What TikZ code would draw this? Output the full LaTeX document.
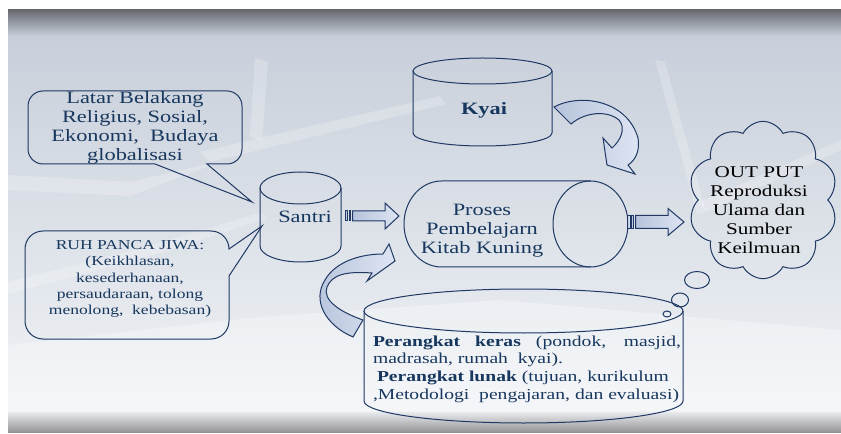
\documentclass[tikz,border=0pt]{standalone}
\usepackage{fontspec}
\setmainfont{Liberation Serif}[FakeStretch=1.29]
\usetikzlibrary{shapes.symbols}

\definecolor{navy}{RGB}{23,55,94}
\definecolor{edge}{RGB}{31,56,100}
\definecolor{arrowA}{RGB}{182,195,219}
\definecolor{arrowB}{RGB}{222,229,243}
\definecolor{panelA}{RGB}{200,207,218}
\definecolor{panelM}{RGB}{222,227,234}
\definecolor{panelB}{RGB}{240,243,246}
\definecolor{bandtop}{RGB}{104,106,112}
\definecolor{bandbot}{RGB}{148,148,150}

\tikzset{every picture/.style={line width=0.75pt}}
\tikzset{
  txt/.style={text=navy, inner sep=0.75pt, align=center},
  outline/.style={draw=edge},
  blockarrow/.style={draw=edge, left color=arrowA, right color=arrowB},
  streak/.style={fill=white, opacity=0.22}
}

\begin{document}
\begin{tikzpicture}[x=0.75pt,y=0.75pt,yscale=-1]
\useasboundingbox (0,0) rectangle (841,434);

%Background panel
\fill[white] (0,0) rectangle (841,434);
\shade[top color=panelA, middle color=panelM, bottom color=panelB] (8,34) rectangle (841,412);
\shade[top color=bandtop, bottom color=panelA] (8,10) rectangle (841,36);
\shade[top color=panelB, bottom color=bandbot] (8,410) rectangle (841,432);

%Ice streaks
\fill[streak] (8,282) -- (150,246) -- (262,212) -- (266,219) -- (150,256) -- (8,294) -- cycle;
\fill[streak] (255,58) -- (268,62) -- (262,142) -- (250,136) -- cycle;
\fill[streak] (200,152) -- (440,96) -- (446,104) -- (210,162) -- cycle;
\fill[streak] (655,60) -- (665,62) -- (706,212) -- (697,214) -- cycle;
\fill[streak] (700,202) -- (841,140) -- (841,150) -- (706,212) -- cycle;
\fill[streak] (8,175) -- (130,182) -- (225,160) -- (130,196) -- (8,190) -- cycle;
\fill[white, opacity=0.3] (8,345) -- (250,318) -- (500,300) -- (841,330) -- (841,412) -- (8,412) -- cycle;

%Callout: Latar Belakang
\draw[outline] (43,91) -- (227,91) arc (270:360:15) -- (242,149) arc (0:90:15) -- (207,164) -- (252,202) -- (155,164) -- (43,164) arc (90:180:15) -- (28,106) arc (180:270:15) -- cycle;
%Callout: Ruh Panca Jiwa
\draw[outline] (43,231) -- (211,231) arc (270:360:18) -- (229,249) -- (262,226) -- (229,276) -- (229,321) arc (0:90:18) -- (43,339) arc (90:180:18) -- (25,321) -- (25,249) arc (180:270:18) -- cycle;

%Cylinder: Santri
\draw[outline] (260,188) -- (260,246) arc (180:0:40.5 and 16) -- (341,188);
\draw[outline] (300.5,188) ellipse [x radius=40.5, y radius=16];
%Cylinder: Kyai
\draw[outline] (413,71) -- (413,133) arc (180:0:69.5 and 13) -- (552,71);
\draw[outline] (482.5,71) ellipse [x radius=69.5, y radius=13];
%Cylinder: Proses (lying)
\draw[outline] (590.5,181) -- (441.5,181) arc (270:90:37.5 and 43) -- (590.5,267);
\draw[outline] (590.5,224) ellipse [x radius=37.5, y radius=43];

%Curved Arrow: Kyai to Proses
\draw[blockarrow] (554,107) .. controls (580,93) and (627,100) .. (638,138) .. controls (640,150) and (636,160) .. (628,165) -- (635,174) -- (607,165) -- (603,138) -- (612,148) .. controls (621,140) and (626,128) .. (619,120) .. controls (607,110) and (585,112) .. (571,124) -- cycle;
%Curved Arrow: Perangkat to Proses
\draw[blockarrow] (363,320) .. controls (340,312) and (322,300) .. (327,287) .. controls (332,275) and (345,271) .. (372,273) -- (367,281) -- (395,261) -- (389,244) -- (383,254) .. controls (360,254) and (335,262) .. (325,280) .. controls (312,300) and (325,325) .. (353,337) -- cycle;

%Cylinder: Perangkat
\draw[outline] (364,311) -- (364,401) arc (180:0:159.5 and 22) -- (683,311);
\draw[outline] (523.5,311) ellipse [x radius=159.5, y radius=22];

%Striped Arrow: Santri to Proses
\draw[blockarrow] (345,211) rectangle (347.5,221);
\draw[blockarrow] (349,211) rectangle (350.5,221);
\draw[blockarrow] (352.5,211) -- (385,211) -- (385,203) -- (399,216) -- (385,229) -- (385,221) -- (352.5,221) -- cycle;
%Striped Arrow: Proses to Output
\draw[blockarrow] (627,215.5) rectangle (630,228.5);
\draw[blockarrow] (631.5,215.5) rectangle (633.5,228.5);
\draw[blockarrow] (635.5,215.5) -- (668,215.5) -- (668,208.5) -- (684,222) -- (668,235.5) -- (668,228.5) -- (635.5,228.5) -- cycle;

%Cloud and thought bubbles
\node[cloud, draw=edge, cloud puffs=10, cloud puff arc=125, aspect=0.95, minimum width=112pt, minimum height=118pt, inner sep=0pt] (output) at (763,200) {};
\draw[outline] (697,280) ellipse [x radius=12.5, y radius=8.5];
\draw[outline] (680,300) ellipse [x radius=8.5, y radius=7];
\draw[outline] (667,314) ellipse [x radius=4, y radius=3];

% Text Node
\node[txt, font=\fontsize{13}{14.25}\selectfont] (latar) at (135,128) {Latar Belakang\\Religius, Sosial,\\Ekonomi,~ Budaya\\globalisasi};
% Text Node
\node[txt, font=\fontsize{10.2}{12.2}\selectfont] (ruh) at (130,279) {RUH PANCA JIWA:\\(Keikhlasan,\\kesederhanaan,\\persaudaraan, tolong\\menolong,~ kebebasan)};
% Text Node
\node[txt, font=\fontsize{13}{14.25}\selectfont] (santri) at (305,217) {Santri};
% Text Node
\node[txt, font=\fontsize{13}{14.25}\selectfont\bfseries] (kyai) at (484,110) {Kyai};
% Text Node
\node[txt, font=\fontsize{13}{14.25}\selectfont] (proses) at (482,231) {Proses\\Pembelajarn\\Kitab Kuning};
% Text Node
\node[txt, text=black, font=\fontsize{12.3}{14.25}\selectfont] (outtext) at (759,210) {OUT PUT\\Reproduksi\\Ulama dan\\Sumber\\Keilmuan};
% Text Node
\node[txt, align=justify, text width=231pt, font=\fontsize{11.4}{13.3}\selectfont] (perangkat) at (527,369) {\textbf{Perangkat keras} (pondok, masjid,\linebreak madrasah, rumah~ kyai).\\\hspace*{3pt}\textbf{Perangkat lunak} (tujuan, kurikulum\\,Metodologi~ pengajaran, dan evaluasi)};
\end{tikzpicture}
\end{document}
